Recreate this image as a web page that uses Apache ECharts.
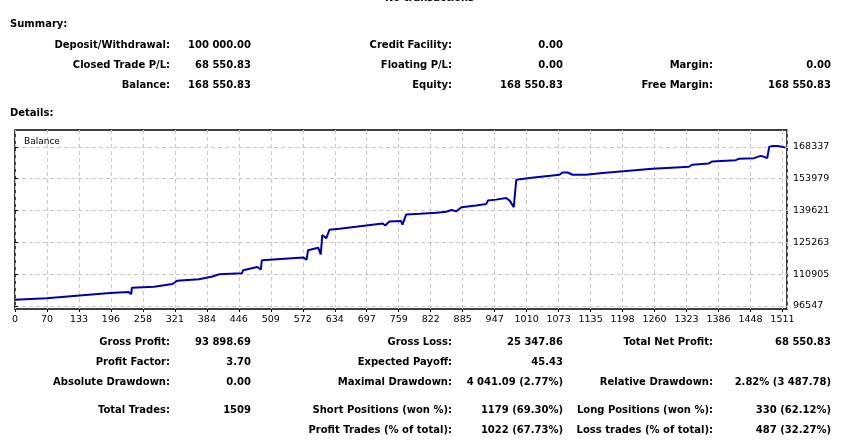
<!DOCTYPE html>
<html>
<head>
<meta charset="utf-8">
<script src="https://cdn.jsdelivr.net/npm/echarts@6/dist/echarts.min.js"></script>
<style>
  body { margin:0; background:#fff; font-family:"DejaVu Sans", Tahoma, sans-serif; }
  #main { position:absolute; left:0; top:0; width:843px; height:442px; }
  .t { position:absolute; font-size:10px; font-weight:bold; color:#000; white-space:nowrap; line-height:14px; }
  .r { transform:translateX(-100%); }
</style>
</head>
<body>
<div id="main"></div>
<div id="txt"></div>
<script>
// balance curve: [trade #, balance]
var tradeIdx = [0,62,187,223,229,230,274,276,310,319,362,389,402,447,449,477,484,486,568,574,577,597,602,605,613,619,639,724,729,737,760,763,770,797,830,849,859,869,879,908,928,930,931,947,967,974,982,987,1013,1072,1078,1088,1098,1124,1157,1255,1301,1327,1333,1366,1373,1419,1425,1455,1458,1468,1471,1475,1481,1485,1491,1501,1504,1517];
var balance = [99400,100100,102380,102900,101900,104755,105200,106100,106500,107900,108660,109870,110900,111350,112700,114180,113000,117185,118400,117400,121670,122870,119880,128540,127200,130960,131400,133790,132900,134700,134900,133300,137800,138140,138600,139100,139860,139300,141100,141900,142600,141900,144107,144550,145300,144100,141100,153530,154280,155770,156800,156800,155770,155770,156520,158470,159070,159370,160270,160860,161760,162360,162960,163260,162660,164300,165060,163860,163260,168337,168790,168790,168040,168040];
var xLabels = ['0','70','133','196','258','321','384','446','509','572','634','697','759','822','885','947','1010','1073','1135','1198','1260','1323','1386','1448','1511'];
var yTicks = [96547,110905,125263,139621,153979,168337];

// report text: [text, x, y, rightAlign]
var texts = [
  ['No transactions', 385, -9, false],
  ['Summary:', 10, 17, false],
  ['Deposit/Withdrawal:', 170, 38, true], ['100 000.00', 251, 38, true],
  ['Credit Facility:', 452, 38, true], ['0.00', 563, 38, true],
  ['Closed Trade P/L:', 170, 58, true], ['68 550.83', 251, 58, true],
  ['Floating P/L:', 452, 58, true], ['0.00', 563, 58, true],
  ['Margin:', 713, 58, true], ['0.00', 831, 58, true],
  ['Balance:', 170, 78, true], ['168 550.83', 251, 78, true],
  ['Equity:', 452, 78, true], ['168 550.83', 563, 78, true],
  ['Free Margin:', 713, 78, true], ['168 550.83', 831, 78, true],
  ['Details:', 10, 106, false],
  ['Gross Profit:', 170, 335, true], ['93 898.69', 251, 335, true],
  ['Gross Loss:', 452, 335, true], ['25 347.86', 563, 335, true],
  ['Total Net Profit:', 713, 335, true], ['68 550.83', 831, 335, true],
  ['Profit Factor:', 170, 355, true], ['3.70', 251, 355, true],
  ['Expected Payoff:', 452, 355, true], ['45.43', 563, 355, true],
  ['Absolute Drawdown:', 170, 375, true], ['0.00', 251, 375, true],
  ['Maximal Drawdown:', 452, 375, true], ['4 041.09 (2.77%)', 563, 375, true],
  ['Relative Drawdown:', 713, 375, true], ['2.82% (3 487.78)', 831, 375, true],
  ['Total Trades:', 170, 403, true], ['1509', 251, 403, true],
  ['Short Positions (won %):', 452, 403, true], ['1179 (69.30%)', 563, 403, true],
  ['Long Positions (won %):', 713, 403, true], ['330 (62.12%)', 831, 403, true],
  ['Profit Trades (% of total):', 452, 423, true], ['1022 (67.73%)', 563, 423, true],
  ['Loss trades (% of total):', 713, 423, true], ['487 (32.27%)', 831, 423, true]
];
var box = document.getElementById('txt');
texts.forEach(function (t) {
  var d = document.createElement('div');
  d.className = 't' + (t[3] ? ' r' : '');
  d.style.left = t[1] + 'px';
  d.style.top = t[2] + 'px';
  d.textContent = t[0];
  box.appendChild(d);
});

var step = 62.96;
var myChart = echarts.init(document.getElementById('main'));
myChart.setOption({
  animation: false,
  title: { text: 'Balance', left: 19, top: 132, textStyle: { fontSize: 9, fontWeight: 'normal', color: '#000', fontFamily: 'DejaVu Sans' } },
  grid: { left: 15, top: 130, right: 56, bottom: 133, show: true, borderColor: '#000', borderWidth: 1.5 },
  xAxis: {
    type: 'value', min: 0, max: 1520, interval: step,
    axisLine: { show: false }, axisTick: { show: true, length: 3, lineStyle: { color: '#000' } },
    axisLabel: { color: '#000', fontSize: 9.5, fontFamily: 'DejaVu Sans', margin: 6, showMaxLabel: false,
      formatter: function (v) { return xLabels[Math.round(v / step)] || ''; } },
    splitLine: { show: true, lineStyle: { color: '#c8c8c8', type: [4, 3] } }
  },
  yAxis: {
    type: 'value', position: 'right', min: 95200, max: 175960,
    axisLine: { show: false },
    axisTick: { show: true, length: 3, lineStyle: { color: '#000' }, customValues: yTicks },
    axisLabel: { color: '#000', fontSize: 9.5, fontFamily: 'DejaVu Sans', margin: 6, customValues: yTicks,
      formatter: function (v) { return String(v); } },
    splitLine: { show: true, lineStyle: { color: '#c8c8c8', type: [4, 3] } }
  },
  series: [{
    type: 'line', showSymbol: false,
    data: tradeIdx.map(function (x, i) { return [x, balance[i]]; }),
    lineStyle: { color: '#0000aa', width: 2 }
  }]
});
</script>
</body>
</html>
